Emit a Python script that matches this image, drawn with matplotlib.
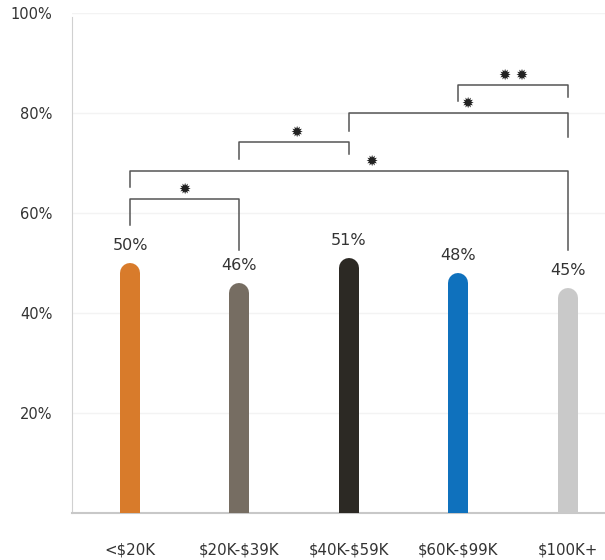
import matplotlib
matplotlib.use("Agg")
import matplotlib.pyplot as plt

plt.rcParams['font.family'] = ['DejaVu Sans']

categories = ['<$20K', '$20K-$39K', '$40K-$59K', '$60K-$99K', '$100K+']
values = [50, 46, 51, 48, 45]
colors = ['#D87B2B', '#766D62', '#2C2924', '#0F71BD', '#C9C9C9']
yticks = [20, 40, 60, 80, 100]

# significance brackets: (left bar, right bar, bar height, left leg end,
# right leg end, star x position, stars)
brackets = [
    (0, 1, 62.8, 57.6, 52.6, 0.50, '✹'),
    (0, 4, 68.4, 65.2, 52.6, 2.21, '✹'),
    (1, 2, 74.2, 70.8, 71.8, 1.52, '✹'),
    (2, 4, 80.0, 76.4, 75.2, 3.08, '✹'),
    (3, 4, 85.6, 82.4, 83.2, 3.50, '✹ ✹'),
]

fig = plt.figure(figsize=(6.05, 5.6), dpi=100)
ax = fig.add_axes([72 / 605, 47 / 560, 533 / 605, 500 / 560])
ax.set_xlim(-0.53, 4.34)
ax.set_ylim(0, 100)

# rounded-top bars: thick lines with round caps, bottom cap clipped below zero
bar_px = 20
ax_h_px = 500
cap = (bar_px / 2) * 100 / ax_h_px
lw_pt = bar_px * 72 / 100
for i, (v, c) in enumerate(zip(values, colors)):
    ax.plot([i, i], [-10, v - cap], color=c, lw=lw_pt,
            solid_capstyle='round', zorder=3)
    ax.annotate(f'{v}%', (i, v), xytext=(0, 12.5), textcoords='offset points',
                ha='center', va='center', fontsize=11.5, color='#333333')

for a, b, top, la, lb, sx, s in brackets:
    ax.plot([a, a, b, b], [la, top, top, lb], color='#555555', lw=1.1,
            zorder=4, clip_on=False)
    ax.text(sx, top + 1.9, s, ha='center', va='center',
            fontsize=10.5, color='#222222')

ax.set_yticks(yticks)
ax.set_yticklabels([f'{t}%' for t in yticks], fontsize=10.5, color='#333333')
ax.set_xticks(range(len(categories)))
ax.set_xticklabels([c.replace('$', r'\$') for c in categories],
                   fontsize=10.8, color='#333333')
ax.tick_params(axis='y', length=0, pad=14)
ax.tick_params(axis='x', length=0, pad=21)
ax.grid(axis='y', color='#F3F3F3', lw=1)
ax.set_axisbelow(True)

for side in ['top', 'right']:
    ax.spines[side].set_visible(False)
ax.spines['left'].set_color('#D0D0D0')
ax.spines['left'].set_bounds(0, 99.2)
ax.spines['bottom'].set_color('#C8C8C8')
ax.spines['bottom'].set_linewidth(1.5)

fig.savefig('out.png', dpi=100)
